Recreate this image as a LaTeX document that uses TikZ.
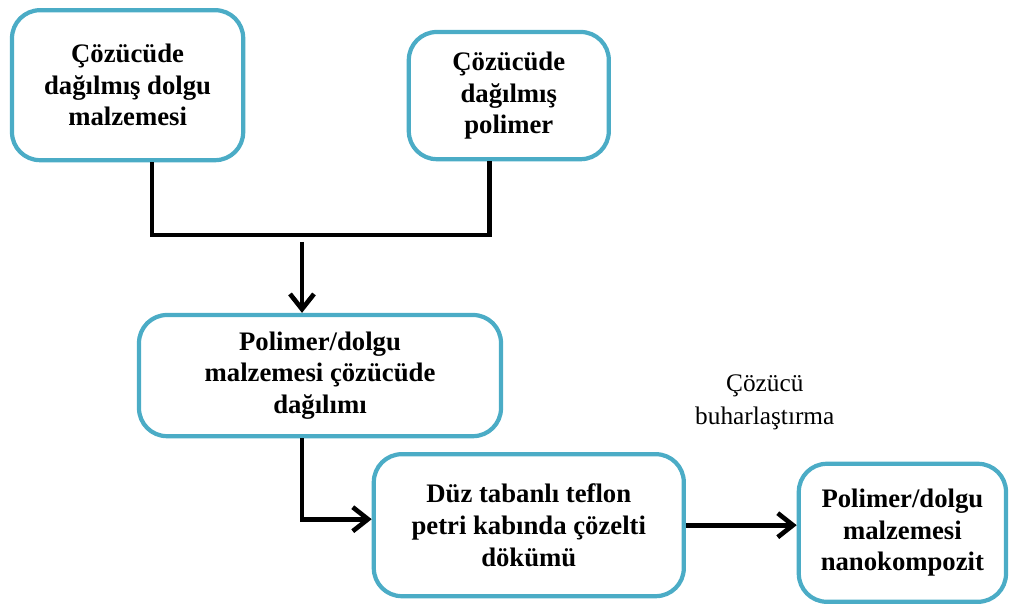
\documentclass[tikz,border=0pt]{standalone}
\usepackage{fontspec}
\setmainfont{Liberation Serif}
\usetikzlibrary{arrows.meta,positioning}
\definecolor{boxblue}{RGB}{75,172,198}

\begin{document}
\begin{tikzpicture}[%
    >={Straight Barb[length=3.8mm,width=6mm]},
    box/.style={draw=boxblue, line width=3pt, rounded corners=0.7cm,
      align=center, font=\fontsize{19}{22.5}\selectfont\bfseries,
      inner sep=0pt},
    link/.style={line width=3.3pt},
    note/.style={align=center, font=\fontsize{18}{23.5}\selectfont}
  ]
    \useasboundingbox (0,0) rectangle (25.275,15.25);

    \node[box, minimum width=5.78cm, minimum height=3.75cm] (A) at (3.19,13.12)
      {Çözücüde\\dağılmış dolgu\\malzemesi};
    \node[box, minimum width=5.0cm, minimum height=3.18cm] (B) at (12.72,12.86)
      {Çözücüde\\dağılmış\\polimer};
    \node[box, minimum width=9.05cm, minimum height=3.03cm] (C) at (8.0,5.86)
      {Polimer/dolgu\\malzemesi çözücüde\\dağılımı};
    \node[box, minimum width=7.75cm, minimum height=3.55cm] (D) at (13.22,2.12)
      {Düz tabanlı teflon\\petri kabında çözelti\\dökümü};
    \node[box, minimum width=5.18cm, minimum height=3.45cm] (E) at (22.56,1.93)
      {Polimer/dolgu\\malzemesi\\nanokompozit};
    \node[note] (evap) at (19.12,5.2) {Çözücü\\buharlaştırma};

    \coordinate (join) at (7.55,9.375);
    \coordinate (drop) at (7.55,9.2);

    \draw[link] ([xshift=0.61cm]A.south) |- (join) -| ([xshift=-0.48cm]B.south);
    \draw[link,->] (drop) -- (C.north -| drop);
    \draw[link,->] (C.south -| drop) |- ([yshift=0.15cm]D.west);
    \draw[link,->] (D.east) -- (D.east -| E.west);
\end{tikzpicture}
\end{document}
